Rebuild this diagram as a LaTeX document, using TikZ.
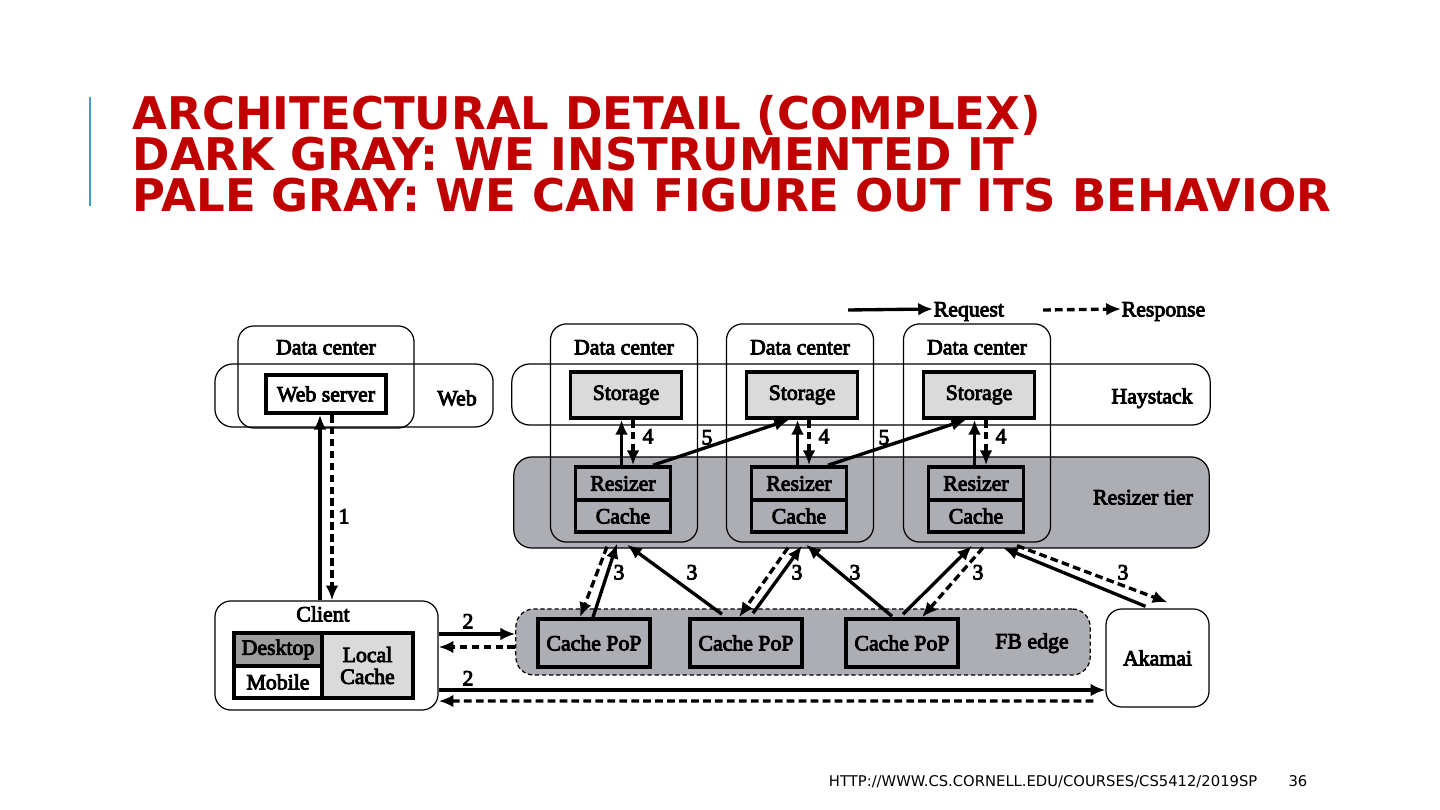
\documentclass[tikz,border=0pt]{standalone}
\usepackage{fontspec}
\setmainfont{Liberation Serif}
\newfontfamily\titlefont{DejaVu Sans}
\newfontfamily\diagfont{Liberation Serif}[FakeBold=4]
\usetikzlibrary{arrows.meta}

\definecolor{titleRed}{RGB}{192,0,0}
\definecolor{accentBlue}{RGB}{60,160,200}
\definecolor{tierGray}{RGB}{173,173,180}
\definecolor{paleGray}{RGB}{218,218,218}
\definecolor{darkGray}{RGB}{158,158,158}

\tikzset{
  band/.style={draw, line width=0.35pt, rounded corners=0.18cm},
  dcbox/.style={draw, line width=0.35pt, rounded corners=0.16cm},
  unitbox/.style={draw, line width=1pt, inner sep=1pt},
  lbl/.style={inner sep=0pt, text height=4.2pt, text depth=0pt},
  req/.style={line width=0.95pt, -{Latex[length=4.2pt,width=3.6pt]}},
  resp/.style={req, dash pattern=on 2.2pt off 1.2pt},
}

\begin{document}
\begin{tikzpicture}[x=0.01cm, y=-0.01cm, font=\diagfont\fontsize{6.2pt}{6.2pt}\selectfont]
\useasboundingbox (0,0) rectangle (1440,810);

% Titel
\draw[accentBlue, line width=0.6pt] (90,97) -- (90,206);
\begin{scope}[every node/.style={anchor=base west, inner sep=0pt, text=titleRed,
    font=\titlefont\bfseries\fontsize{12.8pt}{12.8pt}\selectfont}]
\node (title1) at (132,130) {ARCHITECTURAL DETAIL (COMPLEX)};
\node (title2) at (132,171) {DARK GRAY: WE INSTRUMENTED IT};
\node (title3) at (132,212) {PALE GRAY: WE CAN FIGURE OUT ITS BEHAVIOR};
\end{scope}

% Legende
\coordinate (reqstart) at (848,310);
\node[lbl, anchor=west] (reqtxt) at (933,309) {Request};
\draw[req] (reqstart) -- (reqtxt.west);
\coordinate (respstart) at (1043,310);
\node[lbl, anchor=west] (resptxt) at (1121,309) {Response};
\draw[resp] (respstart) -- (resptxt.west);

% Web
\node[band, minimum width=2.78cm, minimum height=0.63cm] (webband) at (354,395.5) {};
\node[dcbox, minimum width=1.76cm, minimum height=1.02cm] (webdc) at (326,377) {};
\node[lbl] (webdctxt) at (326,347) {Data center};
\node[unitbox, minimum width=1.2cm, minimum height=0.38cm] (websrv) at (326,394) {Web server};
\node[lbl] (webtxt) at (457,398) {Web};

% Haystack und Resizer tier
\node[band, minimum width=6.98cm, minimum height=0.61cm] (haystack) at (861,394.5) {};
\node[lbl] (haytxt) at (1152,396) {Haystack};
\node[band, fill=tierGray, minimum width=6.95cm, minimum height=0.91cm] (tier) at (861.5,502.5) {};
\node[lbl] (tiertxt) at (1143,497) {Resizer tier};

\foreach \i/\x in {1/624, 2/800, 3/977} {
  \node[dcbox, minimum width=1.47cm, minimum height=2.18cm] (dc\i) at (\x,433) {};
  \node[lbl] (dctxt\i) at (\x,347) {Data center};
  \node[unitbox, fill=paleGray, minimum width=1.11cm, minimum height=0.46cm] (st\i) at (\x+2,395) {Storage};
  \node[unitbox, minimum width=0.95cm, minimum height=0.33cm] (rs\i) at (\x-1,483.5) {Resizer};
  \node[unitbox, minimum width=0.95cm, minimum height=0.32cm] (ca\i) at (\x-1,516) {Cache};
  \draw[req] ([xshift=-0.015cm]rs\i.north) -- ([xshift=-0.015cm]rs\i.north |- st\i.south);
  \draw[resp] ([xshift=0.1cm]rs\i.north |- st\i.south) -- ([xshift=0.1cm]rs\i.north);
  \node[lbl] (four\i) at (\x+24,436) {4};
}

% Schritt 5
\draw[req] ([xshift=0.3cm]rs1.north) -- ([xshift=-0.13cm]st2.south);
\draw[req] ([xshift=0.29cm]rs2.north) -- ([xshift=-0.13cm]st3.south);
\node[lbl] (five1) at (707,437) {5};
\node[lbl] (five2) at (884,437) {5};

% FB edge und Akamai
\node[band, dash pattern=on 1.2pt off 0.8pt, fill=tierGray, minimum width=5.74cm, minimum height=0.66cm] (fbedge) at (803,642) {};
\node[lbl] (fbtxt) at (1032,641) {FB edge};
\foreach \i/\x in {1/594, 2/746, 3/902}
  \node[unitbox, minimum width=1.12cm, minimum height=0.48cm] (pop\i) at (\x,643) {Cache PoP};
\node[dcbox, minimum width=1.03cm, minimum height=0.98cm] (akamai) at (1157.5,658) {Akamai};

% Client
\node[dcbox, minimum width=2.23cm, minimum height=1.09cm] (client) at (326.5,655.5) {};
\node[lbl] (clienttxt) at (323,614) {Client};
\node[unitbox, fill=darkGray, minimum width=0.88cm, minimum height=0.33cm] (desktop) at (278,649.5) {Desktop};
\node[unitbox, fill=white, minimum width=0.88cm, minimum height=0.32cm] (mobile) at (278,682) {Mobile};
\node[unitbox, fill=paleGray, minimum width=0.91cm, minimum height=0.65cm, align=center] (lcache) at (367.5,665.5) {Local\\Cache};

% Schritt 1
\draw[req] ([xshift=-0.065cm]client.north) -- ([xshift=-0.065cm]client.north |- websrv.south);
\draw[resp] ([xshift=0.055cm]client.north |- websrv.south) -- ([xshift=0.055cm]client.north);
\node[lbl] (one) at (344,516) {1};

% Schritt 2
\draw[req] ([yshift=0.215cm]client.east) -- ([yshift=0.215cm]client.east -| fbedge.west);
\draw[resp] ([yshift=0.085cm]client.east -| fbedge.west) -- ([yshift=0.085cm]client.east);
\draw[req] ([yshift=-0.345cm]client.east) -- ([yshift=-0.345cm]client.east -| akamai.west);
\draw[resp] ([shift={(-12,45.5)}]client.east -| akamai.west) -- ([yshift=-0.455cm]client.east);
\node[lbl] (two1) at (468,621) {2};
\node[lbl] (two2) at (468,678) {2};

% Schritt 3
\draw[resp] ([shift={(-17,4)}]dc1.south) -- ([shift={(-14,0)}]pop1.north);
\draw[req] ([shift={(-1,0)}]pop1.north) -- ([shift={(-7,1)}]dc1.south);
\draw[req] ([shift={(-24,-3)}]pop2.north) -- ([shift={(3,2)}]dc1.south);
\draw[resp] ([shift={(-12,5)}]dc2.south) -- ([shift={(-7,0)}]pop2.north);
\draw[req] ([shift={(7,-4)}]pop2.north) -- ([shift={(2,3)}]dc2.south);
\draw[req] ([shift={(-10,-1)}]pop3.north) -- ([shift={(6,2)}]dc2.south);
\draw[req] ([shift={(1,-3)}]pop3.north) -- ([shift={(-5,3)}]dc3.south);
\draw[resp] ([shift={(6,5)}]dc3.south) -- ([shift={(20,0)}]pop3.north);
\draw[req] ([shift={(-12,-2)}]akamai.north) -- ([shift={(26,5)}]dc3.south);
\draw[resp] ([shift={(40,3)}]dc3.south) -- ([shift={(10,-6)}]akamai.north);
\foreach \x [count=\i] in {619, 692, 797, 855, 978, 1123}
  \node[lbl] (three\i) at (\x,572) {3};

% Fusszeile
\node[anchor=base east, inner sep=0pt, font=\titlefont\fontsize{4.2pt}{4.2pt}\selectfont] (footurl) at (1258,786) {HTTP://WWW.CS.CORNELL.EDU/COURSES/CS5412/2019SP};
\node[anchor=base east, inner sep=0pt, font=\titlefont\fontsize{4.2pt}{4.2pt}\selectfont] (pagenum) at (1308,786) {36};
\end{tikzpicture}
\end{document}
